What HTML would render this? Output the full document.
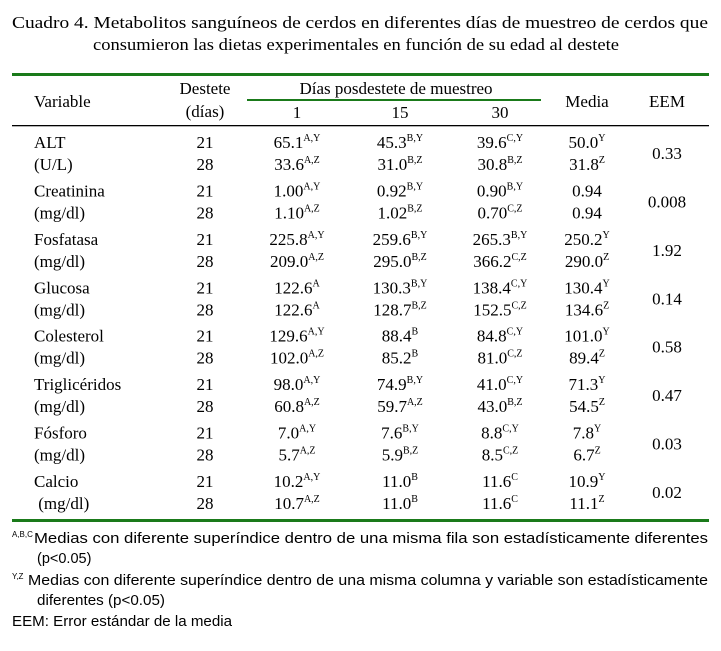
<!DOCTYPE html>
<html><head><meta charset="utf-8"><style>
html,body{margin:0;padding:0;background:#fff;}
svg{display:block;}
.t{font-family:"Liberation Serif",serif;font-size:17px;fill:#000;}
.f{font-family:"Liberation Sans",sans-serif;font-size:14.5px;fill:#000;}
.s{font-size:10px;}
</style></head><body>
<svg width="721" height="651" viewBox="0 0 721 651" xmlns="http://www.w3.org/2000/svg">
<text class="t" x="12" y="28" textLength="696" lengthAdjust="spacingAndGlyphs">Cuadro 4.  Metabolitos sanguíneos de cerdos en diferentes días de muestreo de cerdos que</text>
<text class="t" x="93" y="50" textLength="526" lengthAdjust="spacingAndGlyphs">consumieron las dietas experimentales en función de su edad al destete</text>
<rect x="12" y="73" width="697" height="3" fill="#1a7a1a"/>
<rect x="247" y="99" width="294" height="2" fill="#1a7a1a"/>
<rect x="12" y="125" width="697" height="1.3" fill="#000"/>
<rect x="12" y="519" width="697" height="3" fill="#1a7a1a"/>
<g class="t" text-anchor="middle">
<text x="34" y="107" text-anchor="start">Variable</text>
<text x="205" y="94">Destete</text>
<text x="205" y="117">(días)</text>
<text x="396" y="94">Días posdestete de muestreo</text>
<text x="297" y="118">1</text>
<text x="400" y="118">15</text>
<text x="500" y="118">30</text>
<text x="587" y="107">Media</text>
<text x="667" y="107">EEM</text>
</g>
<g id="rows" class="t"></g>
<text class="f" x="12" y="537" style="font-size:8px">A,B,C</text>
<text class="f" x="34" y="543" textLength="674" lengthAdjust="spacingAndGlyphs">Medias con diferente superíndice dentro de una misma fila son estadísticamente diferentes</text>
<text class="f" x="37" y="563">(p&lt;0.05)</text>
<text class="f" x="12" y="579" style="font-size:8px">Y,Z</text>
<text class="f" x="28" y="585" textLength="680" lengthAdjust="spacingAndGlyphs">Medias con diferente superíndice dentro de una misma columna y variable son estadísticamente</text>
<text class="f" x="37" y="605" textLength="128" lengthAdjust="spacingAndGlyphs">diferentes (p&lt;0.05)</text>
<text class="f" x="12" y="626" textLength="220" lengthAdjust="spacingAndGlyphs">EEM: Error estándar de la media</text>
</svg>
<script>
var D=[
["ALT","(U/L)","0.33",[["65.1","A,Y"],["45.3","B,Y"],["39.6","C,Y"],["50.0","Y"]],[["33.6","A,Z"],["31.0","B,Z"],["30.8","B,Z"],["31.8","Z"]]],
["Creatinina","(mg/dl)","0.008",[["1.00","A,Y"],["0.92","B,Y"],["0.90","B,Y"],["0.94",""]],[["1.10","A,Z"],["1.02","B,Z"],["0.70","C,Z"],["0.94",""]]],
["Fosfatasa","(mg/dl)","1.92",[["225.8","A,Y"],["259.6","B,Y"],["265.3","B,Y"],["250.2","Y"]],[["209.0","A,Z"],["295.0","B,Z"],["366.2","C,Z"],["290.0","Z"]]],
["Glucosa","(mg/dl)","0.14",[["122.6","A"],["130.3","B,Y"],["138.4","C,Y"],["130.4","Y"]],[["122.6","A"],["128.7","B,Z"],["152.5","C,Z"],["134.6","Z"]]],
["Colesterol","(mg/dl)","0.58",[["129.6","A,Y"],["88.4","B"],["84.8","C,Y"],["101.0","Y"]],[["102.0","A,Z"],["85.2","B"],["81.0","C,Z"],["89.4","Z"]]],
["Triglicéridos","(mg/dl)","0.47",[["98.0","A,Y"],["74.9","B,Y"],["41.0","C,Y"],["71.3","Y"]],[["60.8","A,Z"],["59.7","A,Z"],["43.0","B,Z"],["54.5","Z"]]],
["Fósforo","(mg/dl)","0.03",[["7.0","A,Y"],["7.6","B,Y"],["8.8","C,Y"],["7.8","Y"]],[["5.7","A,Z"],["5.9","B,Z"],["8.5","C,Z"],["6.7","Z"]]],
["Calcio"," (mg/dl)","0.02",[["10.2","A,Y"],["11.0","B"],["11.6","C"],["10.9","Y"]],[["10.7","A,Z"],["11.0","B"],["11.6","C"],["11.1","Z"]]]];
var cx=[297,400,500,587],h="";
D.forEach(function(r,i){var y=148+i*48.43;
h+='<text x="34" y="'+y+'">'+r[0]+'</text><text x="34" y="'+(y+22)+'" xml:space="preserve">'+r[1]+'</text>';
h+='<text x="205" y="'+y+'" text-anchor="middle">21</text><text x="205" y="'+(y+22)+'" text-anchor="middle">28</text>';
h+='<text x="667" y="'+(y+11)+'" text-anchor="middle">'+r[2]+'</text>';
[r[3],r[4]].forEach(function(v,k){v.forEach(function(c,j){
h+='<text x="'+cx[j]+'" y="'+(y+22*k)+'" text-anchor="middle">'+c[0]+(c[1]?'<tspan class="s" dy="-7">'+c[1]+'</tspan>':'')+'</text>';});});
});
document.getElementById("rows").innerHTML=h;
</script>
</body></html>
